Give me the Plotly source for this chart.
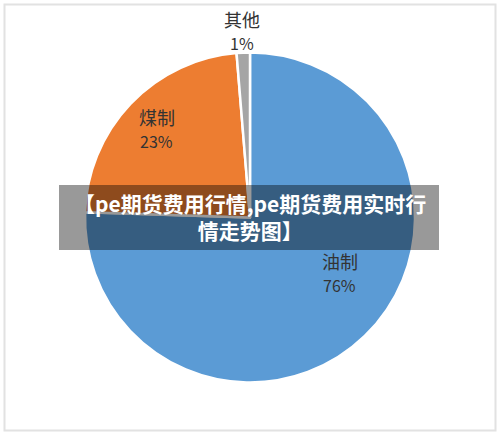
import math
import plotly.graph_objects as go

# ---- data ----
categories = ["油制", "煤制", "其他"]
shares = [75.5, 23.2, 1.3]
share_labels = ["76%", "23%", "1%"]
colors = ["#5B9BD5", "#ED7D31", "#A5A5A5"]
banner_text = "【pe期货费用行情,pe期货费用实时行<br>情走势图】"

# ---- label placement styles (radius fraction, angle shift in degrees) ----
label_radius = [0.64, 0.78, 1.13]
label_shift = [-14, 0, 0]
line_gap = 24  # px between the two label lines

W, H = 500, 435
cx, cy, R = 250, 217.5, 165  # pixel geometry of the pie

fig = go.Figure()
fig.add_trace(go.Pie(
    labels=categories,
    values=shares,
    sort=False,
    direction="clockwise",
    rotation=0,
    marker=dict(colors=colors, line=dict(color="white", width=2.5)),
    textinfo="none",
    hoverinfo="label+percent",
    showlegend=False,
    domain=dict(x=[(cx - R) / W, (cx + R) / W], y=[1 - (cy + R) / H, 1 - (cy - R) / H]),
))

# labels computed from data angles
total = sum(shares)
acc = 0
annotations = []
name_font = dict(family="Noto Sans CJK SC", size=18, color="#333333")
pct_font = dict(family="Noto Sans CJK SC", size=16, color="#333333")
for i, (cat, v) in enumerate(zip(categories, shares)):
    mid = (acc + v / 2) / total * 360 + label_shift[i]
    acc += v
    th = math.radians(mid)
    px = cx + R * label_radius[i] * math.sin(th)
    py = cy - R * label_radius[i] * math.cos(th)
    for txt, dy, f in ((cat, -line_gap / 2, name_font), (share_labels[i], line_gap / 2, pct_font)):
        annotations.append(dict(
            x=px / W, y=1 - (py + dy) / H, xref="paper", yref="paper",
            text=txt, showarrow=False, font=f,
            xanchor="center", yanchor="middle",
        ))

annotations.append(dict(
    x=0.5, y=1 - 216 / H, xref="paper", yref="paper",
    text=banner_text, showarrow=False,
    font=dict(family="Noto Sans CJK SC", size=21, color="white", weight="bold"),
    align="center", xanchor="center", yanchor="middle",
))

shapes = [
    dict(type="rect", xref="paper", yref="paper",
         x0=4.5 / W, x1=495.5 / W, y0=1 - 430.5 / H, y1=1 - 4.5 / H,
         line=dict(color="#e2e2e2", width=2), fillcolor="rgba(0,0,0,0)", layer="below"),
    dict(type="rect", xref="paper", yref="paper",
         x0=59 / W, x1=439 / W, y0=1 - 250 / H, y1=1 - 185 / H,
         line=dict(width=0), fillcolor="rgba(0,0,0,0.4)", layer="above"),
]

fig.update_layout(
    width=W, height=H,
    margin=dict(l=0, r=0, t=0, b=0),
    paper_bgcolor="white", plot_bgcolor="white",
    annotations=annotations, shapes=shapes,
)

fig.write_html("out.html", config={"displayModeBar": False},
               post_script="document.body.style.margin='0';document.body.style.padding='0';")
